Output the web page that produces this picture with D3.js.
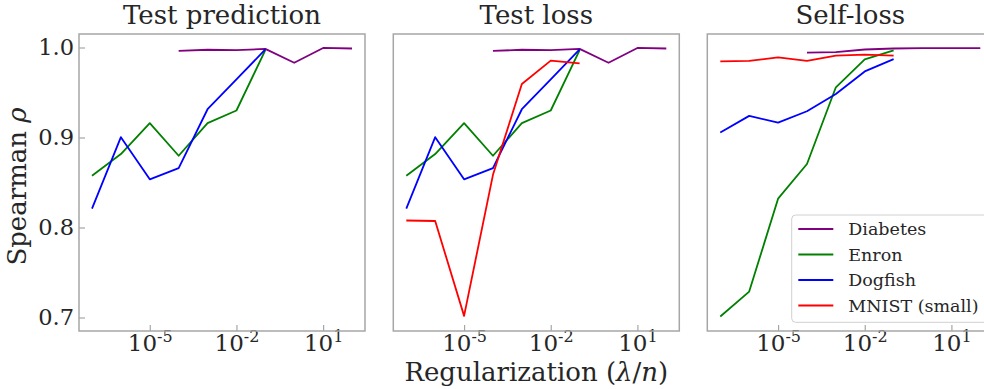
<!DOCTYPE html>
<html>
<head>
<meta charset="utf-8">
<script src="https://cdn.jsdelivr.net/npm/d3@7/dist/d3.min.js"></script>
<style>
  html, body { margin: 0; padding: 0; background: #fff; }
  svg { display: block; }
  text { font-family: "DejaVu Serif", serif; fill: #262626; }
</style>
</head>
<body>
<svg id="chart" width="984" height="389"></svg>
<script>
// Regularization strengths (lambda / n)
const lambdas = [1e-7, 1e-6, 1e-5, 1e-4, 1e-3, 1e-2, 1e-1, 1e0, 1e1, 1e2];

const datasets = ["Diabetes", "Enron", "Dogfish", "MNIST (small)"];
const colors = ["purple", "green", "blue", "red"];

const panelTitles = ["Test prediction", "Test loss", "Self-loss"];

// Spearman rank correlation per dataset (null = not evaluated)
const diabetesTestPred = [null, null, null, 0.9962, 0.9975, 0.9970, 0.9985, 0.9830, 0.9995, 0.9989];
const enronTestPred    = [0.8576, 0.8816, 0.9160, 0.8797, 0.9160, 0.9300, 0.9970, null, null, null];
const dogfishTestPred  = [0.8210, 0.9004, 0.8535, 0.8660, 0.9314, 0.9646, 0.9978, null, null, null];

const diabetesTestLoss = [null, null, null, 0.9962, 0.9975, 0.9970, 0.9985, 0.9830, 0.9995, 0.9989];
const enronTestLoss    = [0.8576, 0.8816, 0.9160, 0.8797, 0.9160, 0.9300, 0.9970, null, null, null];
const dogfishTestLoss  = [0.8210, 0.9004, 0.8535, 0.8660, 0.9314, 0.9646, 0.9978, null, null, null];
const mnistTestLoss    = [0.8078, 0.8072, 0.7018, 0.8585, 0.9595, 0.9854, 0.9823, null, null, null];

const diabetesSelfLoss = [null, null, null, 0.9942, 0.9948, 0.9978, 0.9989, 0.9992, 0.9992, 0.9992];
const enronSelfLoss    = [0.7011, 0.7288, 0.8320, 0.8706, 0.9558, 0.9867, 0.9967, null, null, null];
const dogfishSelfLoss  = [0.9055, 0.9240, 0.9166, 0.9292, 0.9484, 0.9734, 0.9870, null, null, null];
const mnistSelfLoss    = [0.9845, 0.9852, 0.9890, 0.9852, 0.9910, 0.9920, 0.9910, null, null, null];

const xTicks = [1e-5, 1e-2, 1e1];
const yTicks = [0.7, 0.8, 0.9, 1.0];

const panels = [
  { title: panelTitles[0], series: [diabetesTestPred, enronTestPred, dogfishTestPred, null] },
  { title: panelTitles[1], series: [diabetesTestLoss, enronTestLoss, dogfishTestLoss, mnistTestLoss] },
  { title: panelTitles[2], series: [diabetesSelfLoss, enronSelfLoss, dogfishSelfLoss, mnistSelfLoss] }
];

// Layout
const panelLeft = [79, 393.3, 707.3];
const panelW = 286, panelTop = 34, panelH = 297;

const svg = d3.select("#chart");

const x = d3.scaleLog().domain([Math.pow(10, -7.45), Math.pow(10, 2.45)]).range([0, panelW]);
const y = d3.scaleLinear().domain([0.685, 1.015]).range([panelH, 0]);

const line = d3.line()
  .defined(d => d.v != null)
  .x(d => x(d.l))
  .y(d => y(d.v));

const frameColor = "#a6a6a6";

panels.forEach((p, i) => {
  const g = svg.append("g").attr("transform", `translate(${panelLeft[i]},${panelTop})`);

  g.append("rect").attr("width", panelW).attr("height", panelH).attr("fill", "#fff");

  // x axis with inward ticks and power-of-ten labels
  const xa = g.append("g").attr("transform", `translate(0,${panelH})`)
    .call(d3.axisBottom(x).tickValues(xTicks).tickSizeInner(-6).tickSizeOuter(0).tickPadding(4).tickFormat(() => ""));
  xa.select(".domain").remove();
  xa.selectAll(".tick line").attr("stroke", frameColor).attr("stroke-width", 1.2);
  xa.selectAll(".tick text").each(function(d) {
    const t = d3.select(this);
    const e = Math.round(Math.log10(d));
    t.attr("font-size", 23).attr("fill", "#262626").attr("font-family", "DejaVu Serif");
    t.append("tspan").text("10");
    t.append("tspan").attr("font-size", 16).attr("dy", "-0.6em").text(String(e));
  });

  if (i === 0) {
    const ya = g.append("g")
      .call(d3.axisLeft(y).tickValues(yTicks).tickSizeInner(-6).tickSizeOuter(0).tickPadding(5).tickFormat(d3.format(".1f")));
    ya.select(".domain").remove();
    ya.selectAll(".tick line").attr("stroke", frameColor).attr("stroke-width", 1.2);
    ya.selectAll(".tick text").attr("font-size", 22.5).attr("fill", "#262626").attr("font-family", "DejaVu Serif");
  }

  // data lines
  p.series.forEach((vals, k) => {
    if (!vals) return;
    const pts = lambdas.map((l, j) => ({ l, v: vals[j] }));
    g.append("path")
      .datum(pts)
      .attr("fill", "none")
      .attr("stroke", colors[k])
      .attr("stroke-width", 1.8)
      .attr("stroke-linejoin", "round")
      .attr("d", line);
  });

  // frame
  g.append("rect")
    .attr("width", panelW).attr("height", panelH)
    .attr("fill", "none").attr("stroke", frameColor).attr("stroke-width", 1.5);

  // title
  svg.append("text")
    .attr("x", panelLeft[i] + panelW / 2)
    .attr("y", 24)
    .attr("text-anchor", "middle")
    .attr("font-size", 26)
    .text(p.title);
});

// y axis label
const yl = svg.append("text")
  .attr("transform", `translate(26,${panelTop + panelH / 2 + 4}) rotate(-90)`)
  .attr("text-anchor", "middle")
  .attr("font-size", 26);
yl.append("tspan").text("Spearman ");
yl.append("tspan").attr("font-style", "italic").text("ρ");

// x axis label
const xl = svg.append("text")
  .attr("x", panelLeft[1] + panelW / 2)
  .attr("y", 381)
  .attr("text-anchor", "middle")
  .attr("font-size", 26);
xl.append("tspan").text("Regularization (");
xl.append("tspan").attr("font-style", "italic").text("λ");
xl.append("tspan").text("/");
xl.append("tspan").attr("font-style", "italic").text("n");
xl.append("tspan").text(")");

// legend in the self-loss panel
const lg = svg.append("g").attr("transform", "translate(791.7,215)");
lg.append("rect")
  .attr("width", 200).attr("height", 107.3)
  .attr("rx", 4)
  .attr("fill", "#fff").attr("fill-opacity", 0.8)
  .attr("stroke", "#d0d0d0").attr("stroke-width", 1);
datasets.forEach((name, k) => {
  const ry = 14 + k * 25.5;
  lg.append("line")
    .attr("x1", 6.6).attr("x2", 41.6)
    .attr("y1", ry).attr("y2", ry)
    .attr("stroke", colors[k]).attr("stroke-width", 1.8);
  lg.append("text")
    .attr("x", 56.6).attr("y", ry)
    .attr("dy", "0.35em")
    .attr("font-size", 17.5)
    .text(name);
});
</script>
</body>
</html>
